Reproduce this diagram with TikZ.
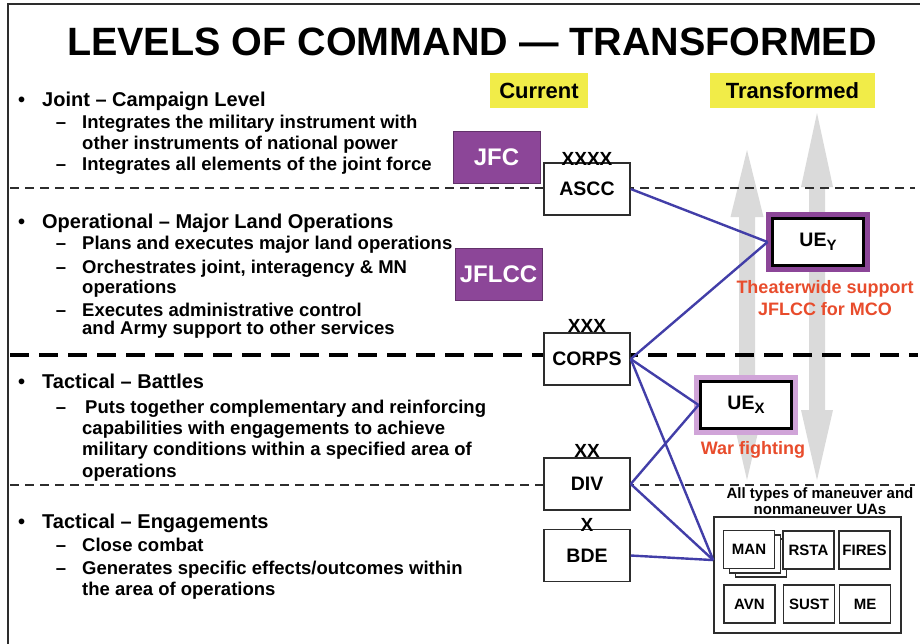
\documentclass[tikz,border=0pt]{standalone}
\usepackage{fontspec}
\setmainfont{Liberation Sans}
\usetikzlibrary{positioning}

\definecolor{jfcpurple}{RGB}{140,70,152}
\definecolor{uexpurple}{RGB}{208,164,216}
\definecolor{tagyellow}{RGB}{241,236,72}
\definecolor{notered}{RGB}{232,76,44}
\definecolor{linkblue}{RGB}{66,62,168}
\definecolor{arrowgrey}{RGB}{218,218,218}
\definecolor{rulegrey}{RGB}{45,45,45}

\tikzset{
  lvlhead/.style={anchor=base west,inner sep=0pt,font=\bfseries\fontsize{20}{24}\selectfont},
  lvlitem/.style={anchor=base west,inner sep=0pt,font=\bfseries\fontsize{18.5}{22}\selectfont},
  tagbox/.style={fill=tagyellow,minimum height=35pt,inner sep=0pt,font=\bfseries\fontsize{22}{26}\selectfont},
  jointbox/.style={fill=jfcpurple,draw=jfcpurple!70!black,line width=.8pt,text=white,minimum width=87pt,minimum height=52pt,inner sep=0pt,font=\bfseries\fontsize{24}{28}\selectfont},
  unitbox/.style={draw=rulegrey,fill=white,line width=1.5pt,minimum width=86pt,minimum height=52pt,inner sep=0pt,font=\bfseries\fontsize{19.5}{23}\selectfont},
  echelon/.style={inner sep=0pt,text depth=0pt,font=\bfseries\fontsize{19}{22}\selectfont},
  uebox/.style={preaction={draw=#1,line width=13.5pt},draw=black,fill=white,line width=3.5pt,minimum width=91pt,minimum height=47pt,inner sep=0pt,outer sep=5pt,font=\bfseries\fontsize{19.5}{23}\selectfont},
  notetext/.style={text=notered,inner sep=0pt,align=center,font=\bfseries\fontsize{18}{22}\selectfont},
  uabox/.style={draw=rulegrey,fill=white,line width=1.3pt,minimum width=51pt,minimum height=38pt,inner sep=0pt,font=\bfseries\fontsize{15}{18}\selectfont},
  link/.style={linkblue,line width=2.4pt},
  thinrule/.style={rulegrey,line width=1.8pt,dash pattern=on 9pt off 6pt},
  thickrule/.style={black,line width=3.6pt,dash pattern=on 19pt off 10pt}
}

\newcommand{\subY}[1]{\raisebox{-4pt}{\fontsize{15}{15}\selectfont #1}}

\begin{document}
\begin{tikzpicture}[x=1pt,y=-1pt]
  \useasboundingbox (0,0) rectangle (920,643);
  \draw[rulegrey,line width=2.5pt] (8,660) -- (8,4) -- (930,4);

  \node (title) [anchor=base,inner sep=0pt,font=\bfseries\fontsize{39.5}{44}\selectfont] at (472,55) {LEVELS OF COMMAND — TRANSFORMED};

  % grey arrows behind the transformed column
  \fill[arrowgrey] (747,150) -- (763.5,217) -- (755,217) -- (755,415) -- (762,415) -- (747,480)
    -- (732,415) -- (739,415) -- (739,217) -- (730.5,217) -- cycle;
  \fill[arrowgrey] (817,113) -- (833,187) -- (825,187) -- (825,410) -- (833,410) -- (817,480)
    -- (801,410) -- (809,410) -- (809,187) -- (801,187) -- cycle;

  % level separators
  \draw[thinrule] (10,188) -- (915,188);
  \draw[thickrule] (10,355) -- (918,355);
  \draw[thinrule] (10,485) -- (915,485);

  % left hand text
  \node (joint) [lvlhead] at (18,106) {\makebox[24pt][l]{•}Joint – Campaign Level};
  \node (joint1) [lvlitem] at (82,128) {\llap{–\hspace{16pt}}Integrates the military instrument with};
  \node (joint1b) [lvlitem] at (82,149) {other instruments of national power};
  \node (joint2) [lvlitem] at (82,170) {\llap{–\hspace{16pt}}Integrates all elements of the joint force};

  \node (oper) [lvlhead] at (18,228) {\makebox[24pt][l]{•}Operational – Major Land Operations};
  \node (oper1) [lvlitem] at (82,249) {\llap{–\hspace{16pt}}Plans and executes major land operations};
  \node (oper2) [lvlitem] at (82,273) {\llap{–\hspace{16pt}}Orchestrates joint, interagency \& MN};
  \node (oper2b) [lvlitem] at (82,293) {operations};
  \node (oper3) [lvlitem] at (82,316) {\llap{–\hspace{16pt}}Executes administrative control};
  \node (oper3b) [lvlitem] at (82,334) {and Army support to other services};

  \node (battle) [lvlhead] at (18,388) {\makebox[24pt][l]{•}Tactical – Battles};
  \node (battle1) [lvlitem] at (85,413) {\llap{–\hspace{19pt}}Puts together complementary and reinforcing};
  \node (battle1b) [lvlitem] at (82,434) {capabilities with engagements to achieve};
  \node (battle1c) [lvlitem] at (82,455) {military conditions within a specified area of};
  \node (battle1d) [lvlitem] at (82,477) {operations};

  \node (engage) [lvlhead] at (18,528) {\makebox[24pt][l]{•}Tactical – Engagements};
  \node (engage1) [lvlitem] at (82,551) {\llap{–\hspace{16pt}}Close combat};
  \node (engage2) [lvlitem] at (82,574) {\llap{–\hspace{16pt}}Generates specific effects/outcomes within};
  \node (engage2b) [lvlitem] at (82,595) {the area of operations};

  % current column
  \node (current) [tagbox,minimum width=98pt] at (539,90.5) {Current};
  \node (jfc) [jointbox] at (496.5,157) {JFC};
  \node (jflcc) [jointbox] at (498.5,274) {JFLCC};
  \node (ascc) [unitbox] at (587,189) {ASCC};
  \node (corps) [unitbox] at (587,359) {CORPS};
  \node (div) [unitbox] at (587,484) {DIV};
  \node (bde) [unitbox] at (587,555.5) {BDE};
  \node (xascc) [echelon,above=-3pt of ascc] {XXXX};
  \node (xcorps) [echelon,above=0pt of corps] {XXX};
  \node (xdiv) [echelon,above=0pt of div] {XX};
  \node (xbde) [echelon,above=-3pt of bde] {X};

  % transformed column
  \node (transf) [tagbox,minimum width=165pt] at (792.5,90.5) {Transformed};
  \node (uey) [uebox=jfcpurple] at (818,242) {UE\subY{Y}};
  \node (uex) [uebox=uexpurple,outer sep=2pt] at (746,405) {UE\subY{X}};
  \node (ueynote) [notetext,anchor=north] at (825,280) {Theaterwide support\\JFLCC for MCO};
  \node (uexnote) [notetext,anchor=base] at (753,454) {War fighting};
  \node (uasnote) [anchor=north,align=center,inner sep=0pt,font=\bfseries\fontsize{15}{16.5}\selectfont] at (820,487) {All types of maneuver and\\nonmaneuver UAs};
  \node (uas) [draw=rulegrey,line width=1.5pt,minimum width=187pt,minimum height=116pt] at (807.5,575) {};
  \node (man2) [uabox] at (761,558) {};
  \node (man1) [uabox] at (755,554) {};
  \node (man) [uabox] at (749,549.5) {MAN};
  \node (rsta) [uabox] at (808.5,550) {RSTA};
  \node (fires) [uabox] at (864.5,550) {FIRES};
  \node (avn) [uabox] at (749.5,604) {AVN};
  \node (sust) [uabox] at (809,604) {SUST};
  \node (me) [uabox] at (865,604) {ME};

  \draw[link] (ascc.east) -- (uey.west);
  \draw[link] (corps.east) -- (uey.west);
  \draw[link] (corps.east) -- (uex.west);
  \draw[link] (corps.east) -- (uas.171);
  \draw[link] (div.east) -- (uex.west);
  \draw[link] (div.east) -- (uas.171);
  \draw[link] (bde.east) -- (uas.171);
\end{tikzpicture}
\end{document}
